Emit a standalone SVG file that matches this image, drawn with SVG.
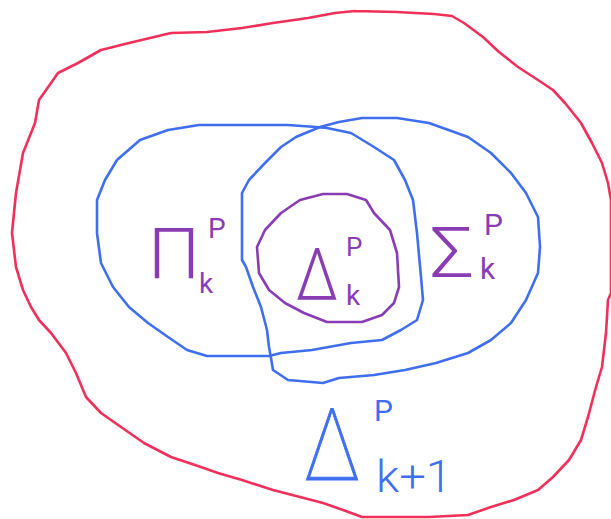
<svg xmlns="http://www.w3.org/2000/svg" width="611" height="519" viewBox="0 0 611 519">
<style>
.ln{fill:none;stroke-width:2.6;stroke-linejoin:round;stroke-linecap:round}
.red{stroke:#f0305a}
.blue{stroke:#3f6ff0}
.pur{stroke:#8a3cb4}
.t{font-family:Roboto,"Liberation Sans",Arial,sans-serif;font-weight:400}
.big{font-weight:300}
.huge{font-weight:100}
.tb{fill:#3f6ff0}
.tp{fill:#8a3cb4}
</style>
<rect width="611" height="519" fill="#ffffff"/>
<g id="delta-k1">
<polyline class="ln red" points="355,11 397,12 434,14 452,16 464,23 483,37 499,52 518,67 538,80 553,90 565,103 581,123 592,143 602,163 608,183 611,200 611,293 608,300 606,333 602,367 596,387 588,417 581,440 569,460 553,477 538,490 514,500 491,507 468,515 429,517 390,517 362,517 343,510 323,503 300,497 273,490 242,480 218,473 195,465 171,457 144,443 121,427 101,413 86,397 76,373 66,353 51,333 39,320 31,307 23,290 16,267 12,233 16,193 23,153 35,123 39,100 51,83 58,73 78,63 101,50 129,43 171,33 207,32 242,28 273,23 308,18 335,13 355,11"/>
<text class="t huge tb" x="304" y="480" font-size="100" textLength="56" lengthAdjust="spacingAndGlyphs" stroke="#3f6ff0" stroke-width="1">Δ</text>
<text class="t tb" x="374" y="421" font-size="30">P</text>
<text class="t big tb" x="376" y="492" font-size="44" textLength="76" lengthAdjust="spacingAndGlyphs">k+1</text>
</g>
<g id="pi-k">
<polyline class="ln blue" points="199,125 288,125 316,127 327,128 351,133 374,147 394,160 405,180 413,200 417,233 421,277 423,300 417,320 401,330 382,340 351,343 312,350 281,353 269,356 207,356 187,350 168,337 148,323 129,307 113,287 101,263 97,233 97,200 105,180 117,160 140,140 168,130 199,125"/>
<text class="t big tp" x="148" y="278" font-size="70" textLength="52" lengthAdjust="spacingAndGlyphs">Π</text>
<text class="t tp" x="208" y="238" font-size="28">P</text>
<text class="t tp" x="199" y="293" font-size="28">k</text>
</g>
<g id="sigma-k">
<polyline class="ln blue" points="320,127 296,137 281,147 265,163 249,180 242,193 242,260 246,267 253,287 261,307 267,330 269,347 271,358 273,370 288,380 323,383 339,378 374,375 405,370 436,363 468,353 491,340 511,323 526,300 538,273 540,247 538,217 526,193 511,173 491,153 468,137 429,123 397,118 362,118 339,122 320,127"/>
<text class="t big tp" x="430" y="277" font-size="70" textLength="44" lengthAdjust="spacingAndGlyphs">Σ</text>
<text class="t tp" x="484" y="235" font-size="30">P</text>
<text class="t tp" x="480" y="279" font-size="30">k</text>
</g>
<g id="delta-k">
<polyline class="ln pur" points="257,247 265,230 281,213 300,200 323,194 347,194 366,200 374,213 390,230 397,253 399,287 394,303 382,315 362,322 327,322 304,313 285,303 269,290 259,273 257,247"/>
<text class="t big tp" x="296" y="300" font-size="72" textLength="42" lengthAdjust="spacingAndGlyphs">Δ</text>
<text class="t tp" x="346" y="256" font-size="26">P</text>
<text class="t tp" x="346" y="305" font-size="28">k</text>
</g>
<g id="connectors"/>
</svg>
